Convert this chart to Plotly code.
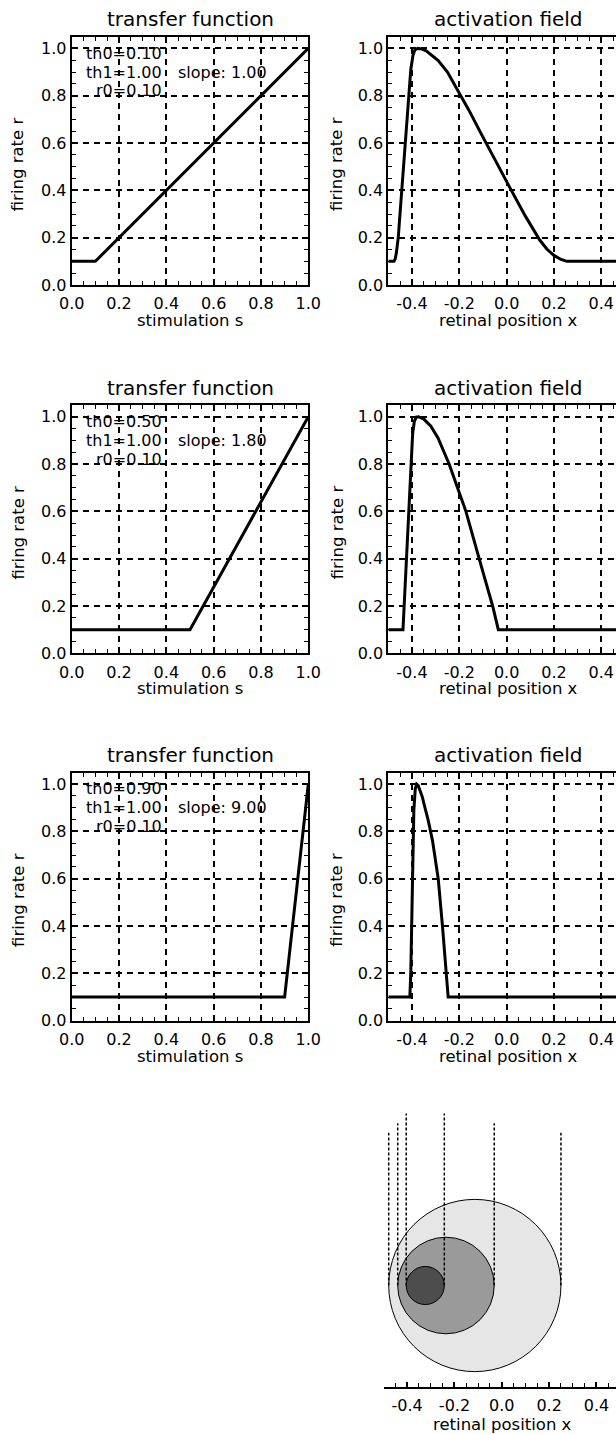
import plotly.graph_objects as go

# ---- transfer-function parameters (one entry per row) ----
TH0 = [0.10, 0.50, 0.90]
TH1 = [1.00, 1.00, 1.00]
R0 = [0.10, 0.10, 0.10]
SLOPE = [1.00, 1.80, 9.00]

# ---- activation fields: retinal position x and firing rate r ----
FIELD1_X = [-0.50, -0.476, -0.471, -0.466, -0.458, -0.443, -0.429, -0.415, -0.405,
            -0.396, -0.387, -0.375, -0.360, -0.340, -0.320, -0.290, -0.250, -0.205,
            -0.160, -0.100, -0.040, 0.020, 0.080, 0.140, 0.170, 0.200, 0.230, 0.255, 0.50]
FIELD1_R = [0.10, 0.10, 0.11, 0.135, 0.20, 0.40, 0.60, 0.80, 0.91,
            0.97, 0.995, 1.00, 0.998, 0.99, 0.975, 0.95, 0.90, 0.82,
            0.74, 0.625, 0.51, 0.40, 0.29, 0.19, 0.152, 0.125, 0.108, 0.10, 0.10]

FIELD2_X = [-0.50, -0.438, -0.433, -0.423, -0.415, -0.405, -0.397, -0.390, -0.382,
            -0.372, -0.350, -0.320, -0.290, -0.243, -0.207, -0.172, -0.116, -0.059,
            -0.035, 0.50]
FIELD2_R = [0.10, 0.10, 0.20, 0.40, 0.60, 0.80, 0.93, 0.98, 0.998,
            1.00, 0.99, 0.96, 0.91, 0.80, 0.70, 0.60, 0.40, 0.20,
            0.10, 0.10]

FIELD3_X = [-0.50, -0.409, -0.405, -0.398, -0.392, -0.386, -0.380, -0.374, -0.366,
            -0.356, -0.345, -0.332, -0.313, -0.289, -0.271, -0.255, -0.247, 0.50]
FIELD3_R = [0.10, 0.10, 0.20, 0.60, 0.89, 0.98, 1.00, 0.995, 0.975,
            0.945, 0.90, 0.85, 0.76, 0.60, 0.40, 0.20, 0.10, 0.10]

FIELDS = [(FIELD1_X, FIELD1_R), (FIELD2_X, FIELD2_R), (FIELD3_X, FIELD3_R)]

# ---- retinal extent of each active region (bottom sketch) ----
EXTENT_LEFT = [-0.478, -0.440, -0.404]
EXTENT_RIGHT = [0.250, -0.032, -0.243]
DROP_TOP = [0.646, 0.686, 0.727]
DISC_FILL = ["#e6e6e6", "#9a9a9a", "#4d4d4d"]

# ---- tick labels ----
S_TICKS = [0.0, 0.2, 0.4, 0.6, 0.8, 1.0]
S_TICKTEXT = ["0.0", "0.2", "0.4", "0.6", "0.8", "1.0"]
X_TICKS = [-0.4, -0.2, 0.0, 0.2, 0.4]
X_TICKTEXT = ["-0.4", "-0.2", "0.0", "0.2", "0.4"]
R_TICKS = [0.0, 0.2, 0.4, 0.6, 0.8, 1.0]
R_TICKTEXT = ["0.0", "0.2", "0.4", "0.6", "0.8", "1.0"]

# ---------------------------------------------------------------------------
W, H = 616, 1434
UNIT = 236.6                 # pixels per data unit on every axis
FONT = "DejaVu Sans"
ROW_BOTTOM = [285.0, 653.3, 1020.7]
ROW_HEIGHT = 248.0
LEFT_X0 = 71.7
RIGHT_X0 = 388.3
SKETCH_X0 = 383.5
SKETCH_AXIS_Y = 1387.3
SKETCH_CENTER_Y = 1285.5
SKETCH_TOP_Y = 1090.0


def fx(px):
    return px / W


def fy(py):
    return 1 - py / H


def steps(lo, hi, step=0.05):
    n = int(round((hi - lo) / step))
    return [round(lo + i * step, 4) for i in range(n + 1)]


tickfont = dict(family=FONT, size=16, color="black")


def framed_axis(domain, rng, tickvals, ticktext, minor_vals, anchor, mirror, standoff):
    return dict(
        domain=domain, range=rng, anchor=anchor, automargin=False,
        showline=True, linecolor="black", linewidth=2, mirror=mirror,
        ticks="inside", ticklen=6, tickwidth=1.5, tickcolor="black",
        tickmode="array", tickvals=tickvals, ticktext=ticktext,
        tickfont=tickfont, ticklabelstandoff=standoff,
        showgrid=True, gridcolor="black", gridwidth=1.6, griddash="6px,5px",
        zeroline=False, fixedrange=True,
        minor=dict(tickmode="array", tickvals=minor_vals, ticks="inside",
                   ticklen=4, tickwidth=1.4, tickcolor="black", showgrid=False),
    )


fig = go.Figure()
layout = {}
annotations = []
shapes = []

x_right_max = -0.5 + (W - RIGHT_X0) / UNIT
y_max = ROW_HEIGHT / UNIT

for row in range(3):
    b = ROW_BOTTOM[row]
    t = b - ROW_HEIGHT
    ydom = [fy(b), fy(t)]
    nl, nr = 2 * row + 1, 2 * row + 2
    kl = "" if nl == 1 else str(nl)
    kr = str(nr)

    # transfer function panel
    layout["xaxis" + kl] = framed_axis(
        [fx(LEFT_X0), fx(LEFT_X0 + UNIT)], [0, 1], S_TICKS, S_TICKTEXT,
        steps(0, 1), "y" + kl, "allticks", 3)
    layout["yaxis" + kl] = framed_axis(
        ydom, [0, y_max], R_TICKS, R_TICKTEXT, steps(0, 1.05), "x" + kl, "allticks", 0)

    # activation field panel (runs off the right edge)
    layout["xaxis" + kr] = framed_axis(
        [fx(RIGHT_X0), 1.0], [-0.5, x_right_max], X_TICKS, X_TICKTEXT,
        steps(-0.5, 0.45), "y" + kr, "allticks", 3)
    layout["yaxis" + kr] = framed_axis(
        ydom, [0, y_max], R_TICKS, R_TICKTEXT, steps(0, 1.05), "x" + kr, False, 0)

    # piecewise-linear transfer function
    fig.add_trace(go.Scatter(
        x=[0.0, TH0[row], TH1[row]], y=[R0[row], R0[row], 1.0],
        mode="lines", line=dict(color="black", width=3),
        xaxis="x" + kl, yaxis="y" + kl, showlegend=False, hoverinfo="skip"))

    fxs, frs = FIELDS[row]
    fig.add_trace(go.Scatter(
        x=fxs, y=frs, mode="lines", line=dict(color="black", width=3),
        xaxis="x" + kr, yaxis="y" + kr, showlegend=False, hoverinfo="skip"))

    # parameter read-out
    pf = dict(family=FONT, size=16, color="black")
    for txt, yy in [(f"th0={TH0[row]:.2f}", 0.980),
                    (f"th1={TH1[row]:.2f}", 0.900),
                    (f"r0={R0[row]:.2f}", 0.820)]:
        annotations.append(dict(text=txt, x=0.388, y=yy, xref="x" + kl, yref="y" + kl,
                                xanchor="right", yanchor="middle", showarrow=False, font=pf))
    annotations.append(dict(text=f"slope: {SLOPE[row]:.2f}", x=0.442, y=0.900,
                            xref="x" + kl, yref="y" + kl, xanchor="left",
                            yanchor="middle", showarrow=False, font=pf))

    # panel titles and axis titles
    title_font = dict(family=FONT, size=20, color="black")
    label_font = dict(family=FONT, size=16.5, color="black")
    annotations.append(dict(text="transfer function", x=fx(190.0), y=fy(t - 17.7),
                            xref="paper", yref="paper", xanchor="center",
                            yanchor="middle", showarrow=False, font=title_font))
    annotations.append(dict(text="activation field", x=fx(508.5), y=fy(t - 17.7),
                            xref="paper", yref="paper", xanchor="center",
                            yanchor="middle", showarrow=False, font=title_font))
    annotations.append(dict(text="stimulation s", x=fx(190.0), y=fy(b + 35.5),
                            xref="paper", yref="paper", xanchor="center",
                            yanchor="middle", showarrow=False, font=label_font))
    annotations.append(dict(text="retinal position x", x=fx(508.5), y=fy(b + 35.5),
                            xref="paper", yref="paper", xanchor="center",
                            yanchor="middle", showarrow=False, font=label_font))
    for cx in (18.3, 337.0):
        annotations.append(dict(text="firing rate r", x=fx(cx), y=fy((t + b) / 2 + 3),
                                xref="paper", yref="paper", xanchor="center",
                                yanchor="middle", textangle=-90, showarrow=False,
                                font=label_font))

# ---- bottom sketch: active regions drawn as discs on the retina ----
layout["xaxis7"] = dict(
    domain=[fx(SKETCH_X0), 1.0], range=[-0.5, -0.5 + (W - SKETCH_X0) / UNIT],
    anchor="y7", automargin=False, showline=True, linecolor="black", linewidth=2,
    mirror=False, ticks="inside", ticklen=5, tickwidth=1.5, tickcolor="black",
    tickmode="array", tickvals=X_TICKS, ticktext=X_TICKTEXT, tickfont=tickfont,
    ticklabelstandoff=2, showgrid=False, zeroline=False, fixedrange=True,
    minor=dict(tickmode="array", tickvals=steps(-0.5, 0.45), ticks="inside",
               ticklen=4, tickwidth=1.4, tickcolor="black", showgrid=False))
layout["yaxis7"] = dict(
    domain=[fy(SKETCH_AXIS_Y), fy(SKETCH_TOP_Y)],
    range=[-(SKETCH_AXIS_Y - SKETCH_CENTER_Y) / UNIT, (SKETCH_CENTER_Y - SKETCH_TOP_Y) / UNIT],
    anchor="x7", visible=False, automargin=False, fixedrange=True)

for left, right, fill in zip(EXTENT_LEFT, EXTENT_RIGHT, DISC_FILL):
    rad = (right - left) / 2
    shapes.append(dict(type="circle", xref="x7", yref="y7", layer="below",
                       x0=left, x1=right, y0=-rad, y1=rad,
                       fillcolor=fill, line=dict(color="black", width=1)))

for left, right, top in zip(EXTENT_LEFT, EXTENT_RIGHT, DROP_TOP):
    for xv in (left, right):
        fig.add_trace(go.Scatter(
            x=[xv, xv], y=[0, top], mode="lines",
            line=dict(color="black", width=1.5, dash="3px,2px"),
            xaxis="x7", yaxis="y7", showlegend=False, hoverinfo="skip"))

annotations.append(dict(text="retinal position x", x=fx(502.0), y=fy(1424.0),
                        xref="paper", yref="paper", xanchor="center", yanchor="middle",
                        showarrow=False, font=dict(family=FONT, size=16.5, color="black")))

fig.update_layout(
    template="none",
    width=W, height=H, autosize=False,
    margin=dict(l=0, r=0, t=0, b=0, pad=0),
    paper_bgcolor="white", plot_bgcolor="white",
    font=dict(family=FONT, color="black"),
    showlegend=False, annotations=annotations, shapes=shapes,
    **layout)

fig.write_html("out.html", config={"displayModeBar": False})
